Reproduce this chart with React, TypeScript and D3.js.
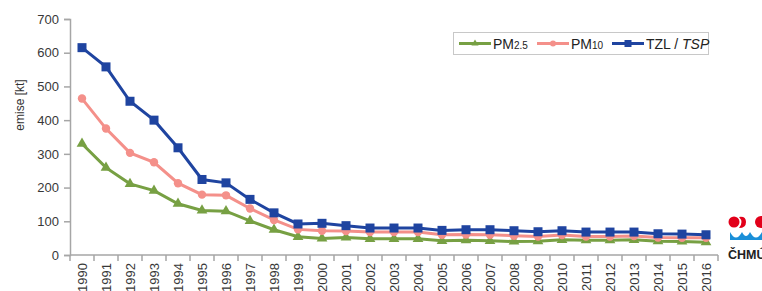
import React, { useEffect, useRef } from 'react';
import * as d3 from 'd3';

const years = d3.range(1990, 2017).map(String);
const tzl = [615, 558, 456, 400, 318, 224, 214, 165, 125, 92, 94, 87, 80, 80, 80, 73, 75, 75, 72, 69, 72, 68, 68, 68, 63, 62, 60];
const pm10 = [464, 375, 303, 275, 213, 179, 177, 138, 104, 76, 72, 71, 68, 68, 68, 60, 61, 60, 57, 55, 59, 55, 55, 56, 52, 51, 51];
const pm25 = [330, 259, 211, 191, 152, 132, 130, 101, 75, 54, 49, 52, 48, 48, 48, 42, 44, 42, 40, 41, 45, 44, 44, 45, 41, 40, 38];
const yTicks = [0, 100, 200, 300, 400, 500, 600, 700];

const W = 762;
const H = 291;
const margin = { left: 70, right: 44, top: 19, bottom: 36 };
const FONT = '"Liberation Sans", Arial, sans-serif';
const GREEN = '#77a043';
const PINK = '#f4908a';
const BLUE = '#1f44a0';
const AXIS = '#a6a6a6';

export default function App() {
  const ref = useRef<SVGSVGElement>(null);

  useEffect(() => {
    if (!ref.current) return;
    const svg = d3.select(ref.current);
    svg.selectAll('*').remove();

    const x = d3.scaleBand().domain(years).range([margin.left, W - margin.right]);
    const y = d3.scaleLinear().domain([0, 700]).range([H - margin.bottom, margin.top]);
    const cx = (d: string) => x(d)! + x.bandwidth() / 2;

    // y axis
    const yAxis = svg.append('g').attr('transform', `translate(${margin.left},0)`)
      .call(d3.axisLeft(y).tickValues(yTicks).tickSize(6).tickPadding(5).tickFormat(d3.format('d')));
    yAxis.select('.domain').attr('stroke', AXIS).attr('stroke-width', 1.5);
    yAxis.selectAll('.tick line').attr('stroke', AXIS).attr('stroke-width', 1.5);
    yAxis.selectAll('.tick text').attr('font-family', FONT).attr('font-size', 13).attr('fill', '#383838');

    // x axis: ticks on band boundaries
    const xg = svg.append('g').attr('transform', `translate(0,${y(0)})`);
    xg.append('line').attr('x1', margin.left).attr('x2', W - margin.right)
      .attr('stroke', AXIS).attr('stroke-width', 1.5);
    const bounds = years.map((d) => x(d)!).concat([W - margin.right]);
    xg.selectAll('line.t').data(bounds).enter().append('line').attr('class', 't')
      .attr('x1', (d) => d).attr('x2', (d) => d).attr('y1', 0).attr('y2', 6)
      .attr('stroke', AXIS).attr('stroke-width', 1.5);
    xg.selectAll('text').data(years).enter().append('text')
      .attr('transform', (d) => `translate(${cx(d) + 4.5},8) rotate(-90)`)
      .attr('text-anchor', 'end').attr('font-family', FONT).attr('font-size', 13).attr('fill', '#383838')
      .text((d) => d);

    // y label
    svg.append('text').attr('transform', 'translate(24,105) rotate(-90)')
      .attr('text-anchor', 'middle').attr('font-family', FONT).attr('font-size', 12).attr('fill', '#333')
      .text('emise [kt]');

    const line = d3.line<number>().x((_, i) => cx(years[i])).y((d) => y(d));

    // PM2.5
    svg.append('path').datum(pm25).attr('d', line).attr('fill', 'none').attr('stroke', GREEN).attr('stroke-width', 3);
    svg.selectAll('path.tri').data(pm25).enter().append('path').attr('class', 'tri')
      .attr('d', d3.symbol().type(d3.symbolTriangle).size(50)!)
      .attr('transform', (d, i) => `translate(${cx(years[i])},${y(d)})`).attr('fill', GREEN);

    // PM10
    svg.append('path').datum(pm10).attr('d', line).attr('fill', 'none').attr('stroke', PINK).attr('stroke-width', 3);
    svg.selectAll('circle.pm10').data(pm10).enter().append('circle').attr('class', 'pm10')
      .attr('cx', (_, i) => cx(years[i])).attr('cy', (d) => y(d)).attr('r', 4.2).attr('fill', PINK);

    // TZL
    svg.append('path').datum(tzl).attr('d', line).attr('fill', 'none').attr('stroke', BLUE).attr('stroke-width', 3);
    svg.selectAll('rect.tzl').data(tzl).enter().append('rect').attr('class', 'tzl')
      .attr('x', (_, i) => cx(years[i]) - 4.5).attr('y', (d) => y(d) - 4.5)
      .attr('width', 9).attr('height', 9).attr('fill', BLUE);

    // legend
    const lg = svg.append('g');
    lg.append('rect').attr('x', 453.5).attr('y', 32.5).attr('width', 255).attr('height', 22)
      .attr('fill', 'white').attr('stroke', '#c8c8c8');
    const items = [
      { x: 459, color: GREEN, main: 'PM', sub: '2.5', marker: 'tri' },
      { x: 537, color: PINK, main: 'PM', sub: '10', marker: 'circle' },
      { x: 612, color: BLUE, main: 'TZL / ', sub: '', marker: 'rect' },
    ];
    items.forEach((it) => {
      const ly = 43.5;
      lg.append('line').attr('x1', it.x).attr('x2', it.x + 32).attr('y1', ly).attr('y2', ly)
        .attr('stroke', it.color).attr('stroke-width', 3);
      const mx = it.x + 16;
      if (it.marker === 'tri') {
        lg.append('path').attr('d', d3.symbol().type(d3.symbolTriangle).size(22)!)
          .attr('transform', `translate(${mx},${ly})`).attr('fill', it.color);
      } else if (it.marker === 'circle') {
        lg.append('circle').attr('cx', mx).attr('cy', ly).attr('r', 3).attr('fill', it.color);
      } else {
        lg.append('rect').attr('x', mx - 3.5).attr('y', ly - 3.5).attr('width', 7).attr('height', 7).attr('fill', it.color);
      }
      const t = lg.append('text').attr('x', it.x + 34).attr('y', ly + 5)
        .attr('font-family', FONT).attr('font-size', 14).attr('fill', '#222');
      t.append('tspan').text(it.main);
      if (it.sub) t.append('tspan').attr('font-size', 10).text(it.sub);
      else t.append('tspan').attr('font-style', 'italic').text('TSP');
    });

    // ČHMÚ logo (approximation)
    const logo = svg.append('g');
    logo.append('circle').attr('cx', 734).attr('cy', 222).attr('r', 5.5).attr('fill', '#e2001a');
    logo.append('path').attr('d', 'M739,217 Q744,222 739,228 Q746,228 746,222 Q746,216 739,217 Z').attr('fill', '#e2001a');
    logo.append('circle').attr('cx', 761).attr('cy', 222).attr('r', 6).attr('fill', '#e2001a');
    logo.append('path').attr('d', 'M730,232 Q736,243 742,232 Q746,240 750,232 Q756,243 762,232 L762,240 L730,240 Z')
      .attr('fill', '#1a8fd8');
    logo.append('text').attr('x', 728).attr('y', 259).attr('font-family', FONT).attr('font-weight', 'bold')
      .attr('font-size', 12.5).attr('fill', '#222').text('ČHMÚ');
  }, []);

  return (
    <svg ref={ref} width={W} height={H} style={{ position: 'absolute', left: 0, top: 0, background: 'white' }} />
  );
}
